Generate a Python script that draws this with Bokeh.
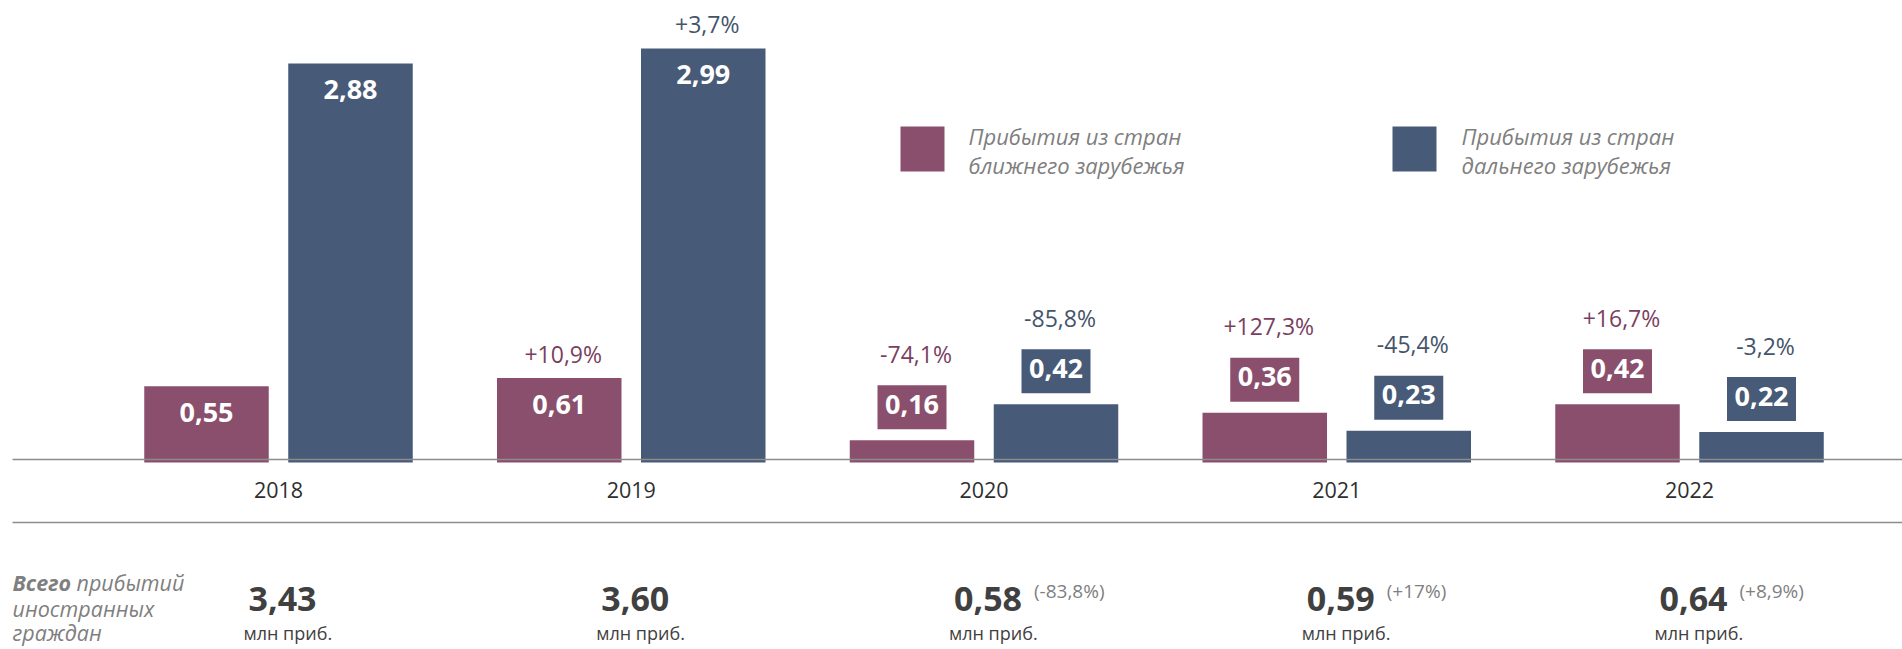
from bokeh.plotting import figure
from bokeh.models import Range1d
from bokeh.core.properties import value
from bokeh.embed import file_html
from bokeh.resources import INLINE

# ---------------- data ----------------
years = ["2018", "2019", "2020", "2021", "2022"]
near_vals = [0.55, 0.61, 0.16, 0.36, 0.42]          # ближнее зарубежье, млн
far_vals = [2.88, 2.99, 0.42, 0.23, 0.22]           # дальнее зарубежье, млн
near_change = [None, 10.9, -74.1, 127.3, 16.7]      # % к пред. году
far_change = [None, 3.7, -85.8, -45.4, -3.2]
totals = [3.43, 3.60, 0.58, 0.59, 0.64]             # всего, млн приб.
total_change = [None, None, -83.8, 17, 8.9]
series_names = [["Прибытия из стран", "ближнего зарубежья"],
                ["Прибытия из стран", "дальнего зарубежья"]]
total_title = ["Всего", "прибытий", "иностранных", "граждан"]
unit_label = "млн приб."

# ---------------- styling ----------------
NEAR = "#8B4F6E"
FAR = "#475A78"
NEAR_TXT = "#7A3F5F"
FAR_TXT = "#44546A"
GREY = "#7F7F7F"
DARK = "#404040"
FONT = value("Open Sans")

W, H = 1902, 649
SX = 352.75   # px per category
SY = 138.5    # px per unit
BASE_FIX = 0.45  # svg text baseline correction (em)


def xd(rx):
    return (rx - 278.0) / SX


def yd(ry):
    return (462.0 - ry) / SY


def dy(px):
    return px / SY


def dx(px):
    return px / SX


def tb(px_font):
    # alphabetic baseline correction, in data units (upwards)
    return dy(BASE_FIX * px_font)


def fmt_val(v):
    return f"{v:.2f}".replace(".", ",")


def fmt_pct(v):
    return f"{v:+g}".replace(".", ",") + "%"


p = figure(width=W, height=H, output_backend="svg", toolbar_location=None,
           x_range=Range1d(xd(0), xd(W)), y_range=Range1d(yd(H), yd(0)),
           x_axis_location=None, y_axis_location=None, min_border=0,
           outline_line_color=None, background_fill_color="white",
           border_fill_color="white")
p.grid.visible = False

idx = list(range(len(years)))
OFF = dx(72)
BW = dx(124.5)
near_x = [i - OFF for i in idx]
far_x = [i + OFF for i in idx]

# bars
p.vbar(x=near_x, top=near_vals, bottom=0, width=BW, fill_color=NEAR, line_color=None)
p.vbar(x=far_x, top=far_vals, bottom=0, width=BW, fill_color=FAR, line_color=None)

# horizontal rules
for ry in (459, 522):
    p.segment(x0=[xd(12)], y0=[yd(ry)], x1=[xd(1910)], y1=[yd(ry)],
              line_color="#8C8C8C", line_width=1.5)

VF = 27   # value font px
PF = 23   # percent font px
# value / change labels
for xs, vals, chg, col, tcol in ((near_x, near_vals, near_change, NEAR, NEAR_TXT),
                                 (far_x, far_vals, far_change, FAR, FAR_TXT)):
    in_x, in_y, in_t = [], [], []
    bx_x, bx_y, bt_y, bt_t = [], [], [], []
    pc_x, pc_y, pc_t = [], [], []
    for x, v, c in zip(xs, vals, chg):
        if v >= 0.5:
            in_x.append(x); in_y.append(v - dy(38.5) + tb(VF)); in_t.append(fmt_val(v))
            top_px = 14
        else:
            bx_x.append(x); bx_y.append(v + dy(11 + 22))
            bt_y.append(v + dy(23.5) + tb(VF)); bt_t.append(fmt_val(v))
            top_px = 76
        if c is not None:
            pc_x.append(x + dx(4)); pc_y.append(v + dy(top_px) + tb(PF))
            pc_t.append(fmt_pct(c))
    p.text(x=in_x, y=in_y, text=in_t, text_font=FONT, text_font_size=f"{VF}px",
           text_font_style="bold", text_color="white", text_align="center",
           text_baseline="alphabetic")
    p.rect(x=bx_x, y=bx_y, width=69, height=44, width_units="screen",
           height_units="screen", fill_color=col, line_color=None)
    p.text(x=bx_x, y=bt_y, text=bt_t, text_font=FONT, text_font_size=f"{VF}px",
           text_font_style="bold", text_color="white", text_align="center",
           text_baseline="alphabetic")
    p.text(x=pc_x, y=pc_y, text=pc_t, text_font=FONT, text_font_size=f"{PF}px",
           text_color=tcol, text_align="center", text_baseline="alphabetic")

# year labels
p.text(x=idx, y=[yd(499) + tb(21.5)] * len(idx), text=years, text_font=FONT,
       text_font_size="21.5px", text_color="#2F2F2F", text_align="center",
       text_baseline="alphabetic")

# totals row
p.text(x=[i - dx(30) for i in idx], y=[yd(614) + tb(34)] * len(idx),
       text=[fmt_val(t) for t in totals], text_font=FONT, text_font_size="34px",
       text_font_style="bold", text_color=DARK, text_align="left",
       text_baseline="alphabetic")
p.text(x=[i - dx(35) for i in idx], y=[yd(641) + tb(18)] * len(idx),
       text=[unit_label] * len(idx), text_font=FONT, text_font_size="18px",
       text_color=DARK, text_align="left", text_baseline="alphabetic")
tc_x = [i + dx(50) for i, c in zip(idx, total_change) if c is not None]
tc_t = ["(" + fmt_pct(c) + ")" for c in total_change if c is not None]
p.text(x=tc_x, y=[yd(599) + tb(19)] * len(tc_x), text=tc_t, text_font=FONT,
       text_font_size="19px", text_color=GREY, text_align="left",
       text_baseline="alphabetic")

# left caption
CF = 21.5
p.text(x=[xd(12)], y=[yd(592) + tb(CF)], text=[total_title[0]], text_font=FONT,
       text_font_size=f"{CF}px", text_font_style="bold italic", text_color=GREY,
       text_align="left", text_baseline="alphabetic")
p.text(x=[xd(76), xd(12), xd(12)],
       y=[yd(592) + tb(CF), yd(618) + tb(CF), yd(642) + tb(CF)],
       text=total_title[1:], text_font=FONT, text_font_size=f"{CF}px",
       text_font_style="italic", text_color=GREY, text_align="left",
       text_baseline="alphabetic")

# legend
LF = 22
for (sq_l, tx_l), col, names in (((900, 968), NEAR, series_names[0]),
                                 ((1392, 1461), FAR, series_names[1])):
    p.rect(x=[xd(sq_l + 22)], y=[yd(148.5)], width=44, height=45,
           width_units="screen", height_units="screen", fill_color=col,
           line_color=None)
    p.text(x=[xd(tx_l)] * 2, y=[yd(145) + tb(LF), yd(174) + tb(LF)], text=names,
           text_font=FONT, text_font_size=f"{LF}px", text_font_style="italic",
           text_color=GREY, text_align="left", text_baseline="alphabetic")

open("out.html", "w").write(file_html(p, INLINE))
